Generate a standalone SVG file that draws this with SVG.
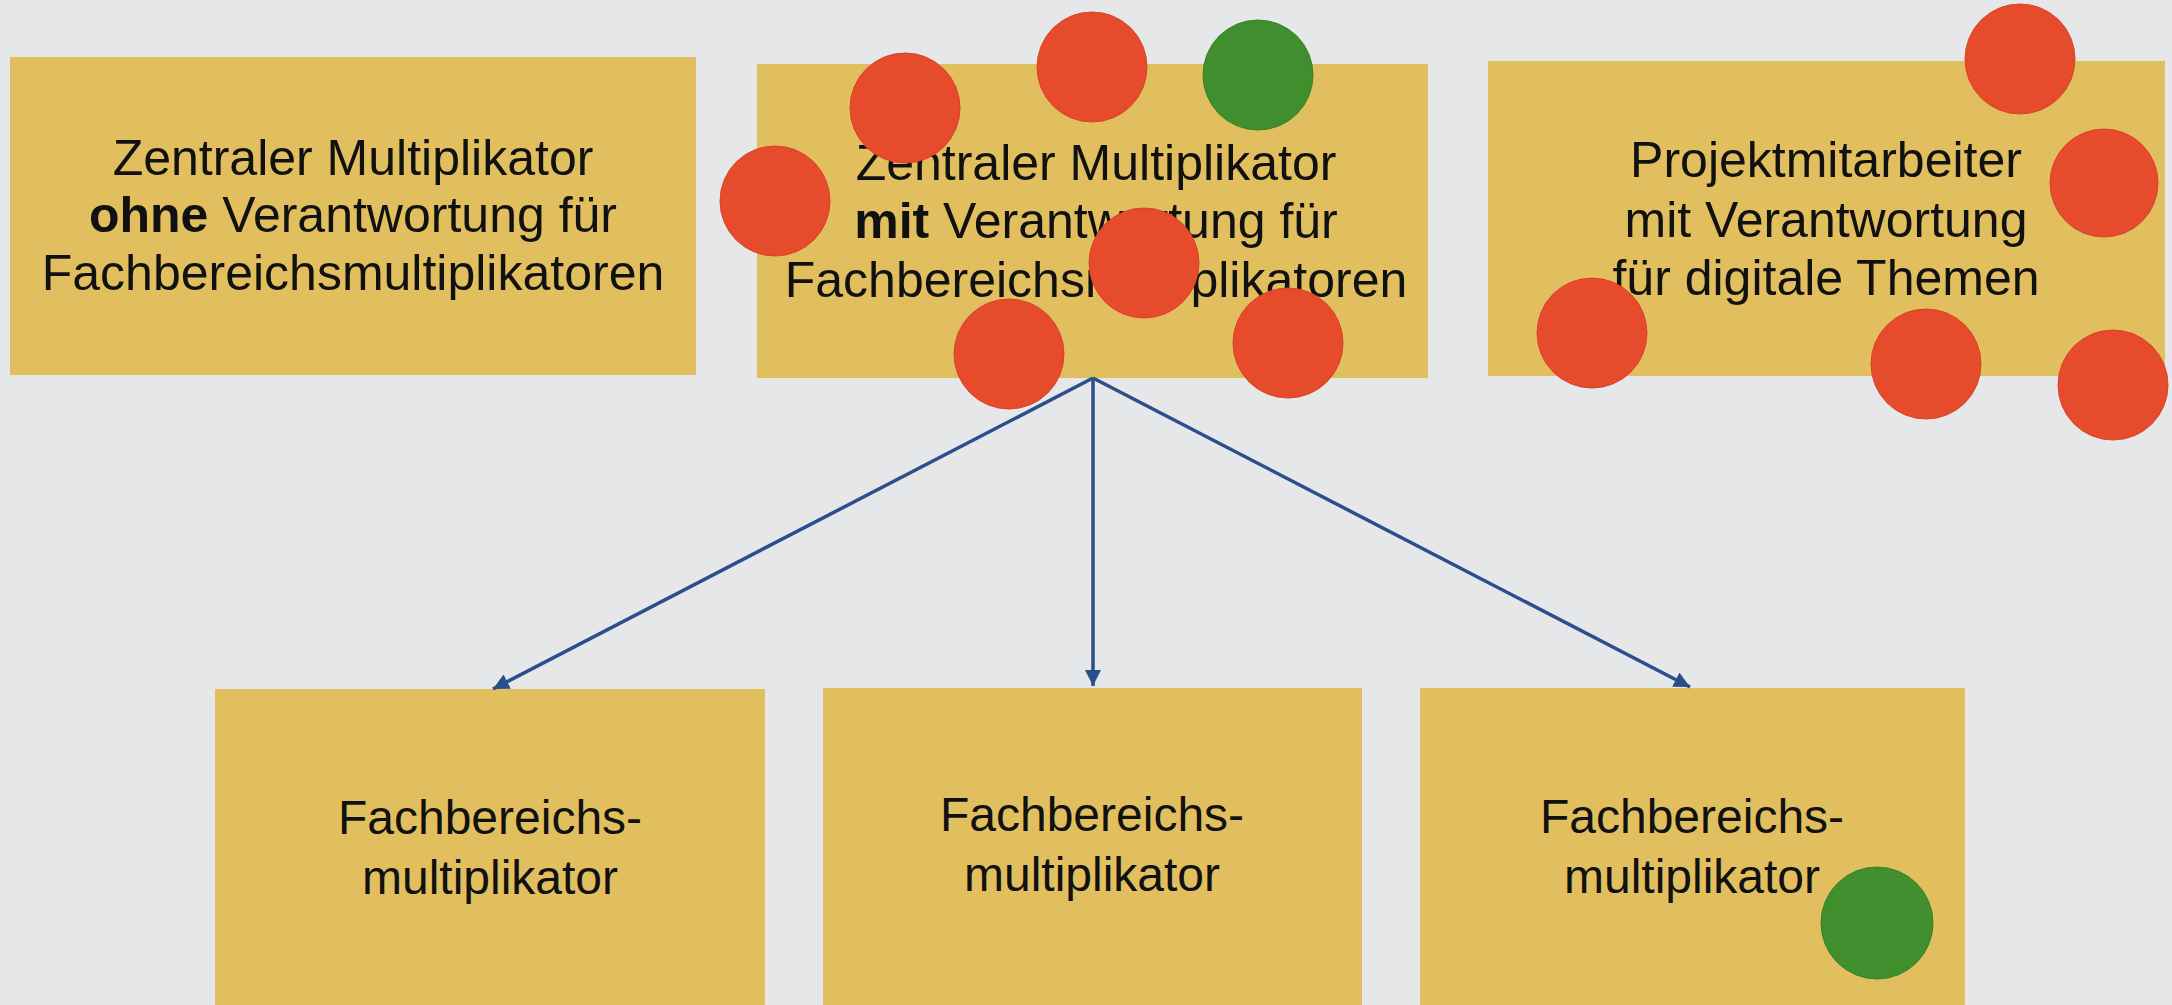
<svg xmlns="http://www.w3.org/2000/svg" width="2172" height="1005" viewBox="0 0 2172 1005">
  <defs>
    <style>
      .bg { fill: #E6E7E8; }
      .box { fill: #E2BF5E; }
      .t { font-family: "Liberation Sans", Arial, sans-serif; font-size: 50px; fill: #111111; text-anchor: middle; }
      .tb { font-size: 48px; }
      .b { font-weight: bold; }
      .conn { stroke: #2B4E8C; stroke-width: 3.5; fill: none; marker-end: url(#ah); }
      .red { fill: #E64B2C; stroke: #D8442A; stroke-width: 1; }
      .green { fill: #418E2E; stroke: #3A8229; stroke-width: 1; }
    </style>
    <marker id="ah" markerUnits="userSpaceOnUse" markerWidth="18" markerHeight="16" refX="16" refY="8" orient="auto">
      <path d="M0,0 L16,8 L0,16 Z" fill="#2B4E8C"/>
    </marker>
  </defs>
  <rect class="bg" x="0" y="0" width="2172" height="1005"/>

  <g id="node-zentral-ohne">
    <rect class="box" x="10" y="57" width="686" height="318"/>
    <text class="t" x="353" y="175">Zentraler Multiplikator</text>
    <text class="t" x="353" y="232"><tspan class="b">ohne</tspan> Verantwortung für</text>
    <text class="t" x="353" y="290">Fachbereichsmultiplikatoren</text>
  </g>

  <g id="node-zentral-mit">
    <rect class="box" x="757" y="64" width="671" height="314"/>
    <text class="t" x="1096" y="180">Zentraler Multiplikator</text>
    <text class="t" x="1096" y="238"><tspan class="b">mit</tspan> Verantwortung für</text>
    <text class="t" x="1096" y="297">Fachbereichsmultiplikatoren</text>
  </g>

  <g id="node-projekt">
    <rect class="box" x="1488" y="61" width="677" height="315"/>
    <text class="t" x="1826" y="177">Projektmitarbeiter</text>
    <text class="t" x="1826" y="237">mit Verantwortung</text>
    <text class="t" x="1826" y="295">für digitale Themen</text>
  </g>

  <g id="node-fb1">
    <rect class="box" x="215" y="689" width="550" height="316"/>
    <text class="t tb" x="490" y="834">Fachbereichs-</text>
    <text class="t tb" x="490" y="894">multiplikator</text>
  </g>

  <g id="node-fb2">
    <rect class="box" x="823" y="688" width="539" height="317"/>
    <text class="t tb" x="1092" y="831">Fachbereichs-</text>
    <text class="t tb" x="1092" y="891">multiplikator</text>
  </g>

  <g id="node-fb3">
    <rect class="box" x="1420" y="688" width="545" height="317"/>
    <text class="t tb" x="1692" y="833">Fachbereichs-</text>
    <text class="t tb" x="1692" y="893">multiplikator</text>
  </g>

  <g id="connectors">
    <line class="conn" x1="1093" y1="378" x2="493" y2="689"/>
    <line class="conn" x1="1093" y1="378" x2="1093" y2="686"/>
    <line class="conn" x1="1093" y1="378" x2="1690" y2="687"/>
  </g>

  <g id="stickers">
    <circle class="red" cx="905" cy="108" r="55"/>
    <circle class="red" cx="775" cy="201" r="55"/>
    <circle class="red" cx="1009" cy="354" r="55"/>
    <circle class="red" cx="1092" cy="67" r="55"/>
    <circle class="green" cx="1258" cy="75" r="55"/>
    <circle class="red" cx="1144" cy="263" r="55"/>
    <circle class="red" cx="1288" cy="343" r="55"/>
    <circle class="red" cx="2020" cy="59" r="55"/>
    <circle class="red" cx="2104" cy="183" r="54"/>
    <circle class="red" cx="1592" cy="333" r="55"/>
    <circle class="red" cx="1926" cy="364" r="55"/>
    <circle class="red" cx="2113" cy="385" r="55"/>
    <circle class="green" cx="1877" cy="923" r="56"/>
  </g>
</svg>
